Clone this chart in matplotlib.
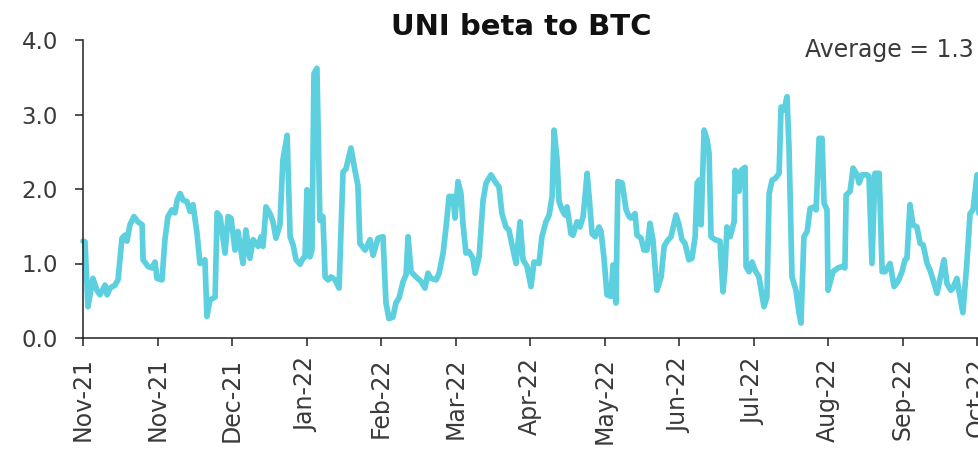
import matplotlib
matplotlib.use("Agg")
import matplotlib.pyplot as plt
import numpy as np

# ---- data ----
title = "UNI beta to BTC"
average_label = "Average = 1.3"
tick_labels = ["Nov-21", "Nov-21", "Dec-21", "Jan-22", "Feb-22", "Mar-22", "Apr-22",
               "May-22", "Jun-22", "Jul-22", "Aug-22", "Sep-22", "Oct-22"]
tick_step_days = 30

# day offsets from the first label date, and rolling beta values
days = [0.0, 0.8, 2.0, 4.0, 5.6, 6.8, 8.9, 9.7, 10.9, 12.9, 14.1, 15.7, 16.9, 17.7, 18.9,
        20.5, 22.1, 23.8, 24.2, 26.2, 27.8, 29.0, 29.8, 31.8, 33.0, 34.2, 35.8, 37.0, 37.9,
        39.1, 40.3, 41.9, 43.1, 44.3, 45.9, 47.1, 49.1, 49.9, 51.1, 53.2, 54.0, 55.2, 57.2,
        58.4, 59.6, 61.2, 62.4, 64.4, 65.6, 67.2, 68.5, 70.5, 71.7, 72.5, 73.7, 75.3, 76.5,
        77.7, 79.3, 80.5, 82.2, 83.4, 84.6, 85.8, 87.4, 88.6, 89.4, 90.2, 91.4, 92.2, 93.0,
        94.2, 95.4, 96.6, 97.5, 98.7, 99.9, 101.5, 103.1, 104.7, 105.9, 107.9, 109.5, 110.7,
        111.5, 113.6, 115.6, 116.8, 118.8, 120.8, 122.0, 123.2, 124.8, 126.0, 127.3, 128.9,
        130.1, 130.9, 132.1, 134.1, 136.1, 137.7, 138.9, 140.1, 142.2, 143.4, 145.0, 146.2,
        147.4, 149.0, 149.8, 151.0, 152.2, 153.0, 154.2, 155.4, 157.0, 157.9, 159.5, 161.1,
        162.3, 164.3, 166.3, 167.5, 168.7, 170.3, 171.5, 173.2, 174.4, 176.0, 177.2, 178.8,
        180.4, 181.6, 183.6, 184.8, 186.4, 187.7, 188.9, 189.7, 190.9, 191.7, 192.9, 194.1,
        194.9, 196.5, 197.3, 198.9, 200.1, 201.4, 203.0, 203.8, 205.0, 206.2, 207.8, 208.6,
        209.8, 211.0, 212.6, 213.4, 214.6, 215.4, 217.1, 218.7, 219.9, 220.7, 222.3, 223.1,
        224.7, 225.9, 227.1, 228.3, 229.5, 231.1, 232.8, 234.0, 235.2, 236.8, 238.8, 240.0,
        241.2, 242.4, 244.0, 245.2, 246.5, 247.3, 248.1, 248.9, 250.1, 251.3, 252.1, 252.9,
        254.5, 256.5, 257.7, 258.5, 259.3, 260.6, 262.2, 262.6, 264.2, 265.0, 266.6, 267.0,
        268.2, 269.4, 270.6, 272.2, 274.2, 275.4, 276.3, 277.5, 278.7, 280.3, 281.1, 282.3,
        283.5, 284.3, 285.5, 287.1, 288.3, 289.1, 290.3, 291.6, 292.8, 294.4, 295.2, 296.4,
        297.6, 298.4, 299.6, 300.0, 302.0, 304.0, 305.6, 306.8, 307.3, 308.9, 310.1, 311.7,
        312.5, 313.7, 315.7, 316.5, 317.7, 318.9, 320.6, 321.8, 323.0, 325.0, 326.6, 328.2,
        329.8, 331.0, 331.8, 333.0, 334.2, 335.8, 337.1, 338.3, 339.9, 341.1, 342.3, 343.9,
        344.7, 346.7, 347.9, 349.5, 350.3, 351.9, 352.7, 354.3, 355.9, 357.2, 358.4, 360.0,
        360.8]
beta = [1.30, 1.29, 0.42, 0.80, 0.64, 0.58, 0.71, 0.58, 0.67, 0.71, 0.78, 1.34, 1.38, 1.30, 1.52,
        1.63, 1.56, 1.52, 1.05, 0.96, 0.94, 1.02, 0.80, 0.78, 1.32, 1.63, 1.72, 1.68, 1.85,
        1.94, 1.85, 1.83, 1.70, 1.79, 1.41, 1.00, 1.05, 0.29, 0.51, 0.55, 1.68, 1.63, 1.14,
        1.63, 1.61, 1.18, 1.43, 1.00, 1.45, 1.07, 1.32, 1.23, 1.36, 1.23, 1.76, 1.67, 1.56,
        1.34, 1.52, 2.39, 2.72, 1.36, 1.25, 1.05, 0.99, 1.07, 1.09, 1.99, 1.09, 1.18, 3.55,
        3.62, 1.58, 1.63, 0.82, 0.78, 0.82, 0.78, 0.67, 2.23, 2.27, 2.55, 2.25, 2.05,
        1.27, 1.18, 1.32, 1.11, 1.34, 1.36, 0.47, 0.26, 0.28, 0.47, 0.54, 0.76,
        0.85, 1.36, 0.89, 0.82, 0.76, 0.67, 0.87, 0.80, 0.78, 0.87, 1.14, 1.49,
        1.90, 1.90, 1.61, 2.10, 1.94, 1.54, 1.14, 1.16, 1.07, 0.87, 1.09, 1.85,
        2.08, 2.19, 2.08, 2.03, 1.67, 1.49, 1.45, 1.18, 1.00, 1.56, 1.05, 0.96,
        0.69, 1.02, 1.00, 1.36, 1.56, 1.65, 1.90, 2.79, 2.39, 1.83, 1.72, 1.65,
        1.76, 1.40, 1.38, 1.56, 1.49, 1.63, 2.21, 1.90, 1.40, 1.36, 1.49, 1.43,
        1.07, 0.58, 0.56, 0.98, 0.47, 2.10, 2.08, 1.72, 1.63, 1.61, 1.67, 1.38,
        1.34, 1.18, 1.18, 1.54, 1.32, 0.64, 0.82, 1.23, 1.30, 1.36, 1.65, 1.52,
        1.32, 1.27, 1.05, 1.07, 1.36, 2.08, 2.12, 1.52, 2.79, 2.66, 2.48, 1.36,
        1.32, 1.30, 0.62, 0.91, 1.49, 1.36, 1.56, 2.25, 1.97, 2.25, 2.29, 0.96,
        0.89, 1.02, 0.91, 0.82, 0.42, 0.55, 1.94, 2.12, 2.14, 2.21, 3.10, 3.06,
        3.24, 2.55, 0.82, 0.64, 0.34, 0.20, 1.36, 1.43, 1.74, 1.76, 1.72, 2.68,
        2.68, 1.81, 1.72, 0.64, 0.89, 0.94, 0.96, 0.94, 1.92, 1.97, 2.28, 2.19,
        2.08, 2.19, 2.19, 2.17, 1.00, 2.21, 2.21, 0.89, 0.89, 1.00, 0.69, 0.76,
        0.89, 1.05, 1.07, 1.79, 1.52, 1.49, 1.27, 1.25, 1.00, 0.91, 0.78, 0.60,
        0.73, 1.05, 0.73, 0.64, 0.67, 0.80, 0.64, 0.34, 1.00, 1.67, 1.72, 2.19,
        1.67]
y_ticks = [0.0, 1.0, 2.0, 3.0, 4.0]

# ---- style ----
line_color = "#5DD0E0"
text_color = "#3a3a3a"
plt.rcParams["font.family"] = ["DejaVu Sans"]

fig = plt.figure(figsize=(9.79, 4.53), dpi=100)
ax = fig.add_axes([83 / 979, 115 / 453, 896.5 / 979, 298 / 453])

ax.plot(days, beta, color=line_color, linewidth=4.1, solid_joinstyle="round",
        solid_capstyle="round", clip_on=False)

ax.set_ylim(0, 4)
ax.set_xlim(0, 361)
ax.set_yticks(y_ticks)
ax.set_yticklabels([f"{v:.1f}" for v in y_ticks])
ax.set_xticks(np.arange(len(tick_labels)) * tick_step_days)
ax.set_xticklabels(tick_labels, rotation=90)

for s in ("top", "right"):
    ax.spines[s].set_visible(False)
for s in ("left", "bottom"):
    ax.spines[s].set_color("#222222")
    ax.spines[s].set_linewidth(1.1)
ax.tick_params(axis="both", direction="out", length=6, width=1.1, color="#222222",
               labelcolor=text_color)
ax.tick_params(axis="y", labelsize=16.5, pad=12)
ax.tick_params(axis="x", labelsize=17, pad=8)

fig.text(521 / 979, 1 - 27 / 453, title, ha="center", va="center",
         fontsize=21, fontweight="bold", color="#111111")
fig.text(974 / 979, 1 - 50 / 453, average_label, ha="right", va="center",
         fontsize=17, color=text_color)

fig.savefig("out.png", dpi=100)
